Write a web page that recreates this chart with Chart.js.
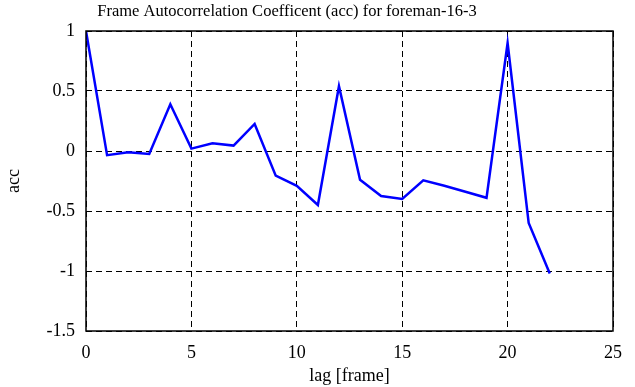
<!DOCTYPE html>
<html>
<head>
<meta charset="utf-8">
<script src="https://cdn.jsdelivr.net/npm/chart.js@4"></script>
<style>
  html, body { margin: 0; padding: 0; background: #fff; }
  #wrap { width: 635px; height: 387px; position: relative; }
</style>
</head>
<body>
<div id="wrap"><canvas id="accChart"></canvas></div>
<script>
const lags = [0, 1, 2, 3, 4, 5, 6, 7, 8, 9, 10, 11, 12, 13, 14, 15, 16, 17, 18, 19, 20, 21, 22];
const accValues = [1.0, -0.035, -0.01, -0.025, 0.39, 0.02, 0.065, 0.045, 0.225, -0.205, -0.29, -0.45,
    0.54, -0.24, -0.375, -0.4, -0.245, -0.29, -0.34, -0.39, 0.9, -0.6, -1.02];
const xTicks = [0, 5, 10, 15, 20, 25];
const yTicks = [-1.5, -1, -0.5, 0, 0.5, 1];
const chartTitle = 'Frame Autocorrelation Coefficent (acc) for foreman-16-3';

const serif = "'Liberation Serif', 'DejaVu Serif', serif";

// box around the plot area + title (matlab puts it a bit left of centre)
const frame = {
    id: 'frame',
    afterDraw(chart) {
        const a = chart.chartArea;
        const c = chart.ctx;
        c.save();
        c.strokeStyle = '#000';
        c.lineWidth = 1.5;
        c.strokeRect(a.left, a.top, a.right - a.left, a.bottom - a.top);
        c.fillStyle = '#000';
        c.font = '16.5px ' + serif;
        c.textAlign = 'center';
        c.textBaseline = 'middle';
        c.fillText(chartTitle, 287, 12);
        c.restore();
    }
};

const ctx = document.getElementById('accChart').getContext('2d');
new Chart(ctx, {
    type: 'line',
    data: {
        datasets: [{
            data: lags.map((l, i) => ({ x: l, y: accValues[i] })),
            borderColor: '#0000ff',
            borderWidth: 2.5,
            pointRadius: 0,
            tension: 0,
            fill: false
        }]
    },
    options: {
        responsive: true,
        maintainAspectRatio: false,
        animation: false,
        layout: { padding: { left: 0, right: 22, top: 31, bottom: 0 } },
        plugins: {
            legend: { display: false },
            tooltip: { enabled: false },
            title: { display: false }
        },
        scales: {
            x: {
                type: 'linear',
                min: 0,
                max: 25,
                afterBuildTicks: s => { s.ticks = xTicks.map(v => ({ value: v })); },
                afterFit: s => { s.height = 56; },
                ticks: { color: '#000', font: { family: serif, size: 18 }, padding: 11, maxRotation: 0,
                    callback: v => String(v) },
                grid: { color: '#000', lineWidth: 1, drawTicks: false },
                border: { display: false, dash: [6, 4] },
                title: { display: true, text: 'lag [frame]', color: '#000', font: { family: serif, size: 18 }, padding: { top: 0, bottom: 0 } }
            },
            y: {
                min: -1.5,
                max: 1,
                afterBuildTicks: s => { s.ticks = yTicks.map(v => ({ value: v })); },
                afterFit: s => { s.width = 86; },
                ticks: { color: '#000', font: { family: serif, size: 18 }, padding: 11,
                    callback: v => String(v) },
                grid: { color: '#000', lineWidth: 1, drawTicks: false },
                border: { display: false, dash: [6, 4] },
                title: { display: true, text: 'acc', color: '#000', font: { family: serif, size: 18 }, padding: { top: 3, bottom: 0 } }
            }
        }
    },
    plugins: [frame]
});
</script>
</body>
</html>
